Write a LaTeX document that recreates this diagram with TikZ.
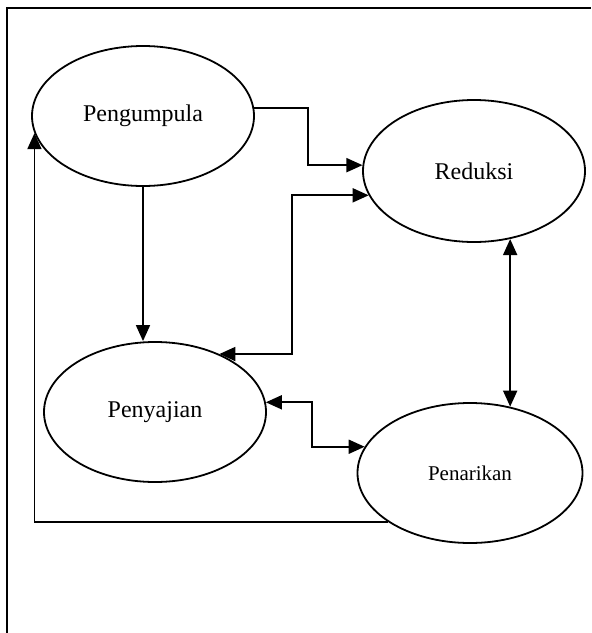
\documentclass[tikz,border=0pt]{standalone}
\usepackage{fontspec}
\setmainfont{Liberation Serif}
\usepackage{tikz}
\usetikzlibrary{arrows.meta, shapes.geometric, positioning}

\begin{document}
\begin{tikzpicture}[x=0.5pt, y=-0.5pt, line width=0.9pt,
                proses/.style={draw, ellipse, line width=0.9pt,
                               minimum width=111pt, minimum height=70pt,
                               inner sep=0pt, font=\fontsize{12}{14}\selectfont},
                panah/.style={-{Triangle[length=8pt, width=7pt]}},
                duapanah/.style={{Triangle[length=8pt, width=7pt]}-{Triangle[length=8pt, width=7pt]}}]
                \useasboundingbox (0,0) rectangle (591,633);
                % bingkai
                \draw[line width=1pt] (7,633) -- (7,8) -- (591,8);

                \node[proses] (kumpul) at (143,116) {Pengumpula};
                \node[proses, minimum width=111pt, minimum height=71pt]
                      (reduksi) at (474,171) {Reduksi};
                \node[proses] (saji) at (155,412) {Penyajian};
                \node[proses, minimum width=112.5pt,
                      font=\fontsize{10.5}{12}\selectfont] (tarik) at (470,473) {Penarikan};

                \draw[panah] (kumpul.4) -- ++(54,0) |- (reduksi.177);
                \draw[duapanah] (saji.42) -- ++(73,0) |- (reduksi.193);
                \draw[panah] (kumpul.south) -- (kumpul.south |- saji.north);
                \draw[duapanah] (reduksi.-62) -- (reduksi.-62 |- tarik.59);
                \draw[duapanah] (saji.5) -- ++(46,0) |- (tarik.166);
                \draw[panah] (tarik.211) -- (kumpul.189 |- tarik.211) -- (kumpul.189);
            \end{tikzpicture}
\end{document}
